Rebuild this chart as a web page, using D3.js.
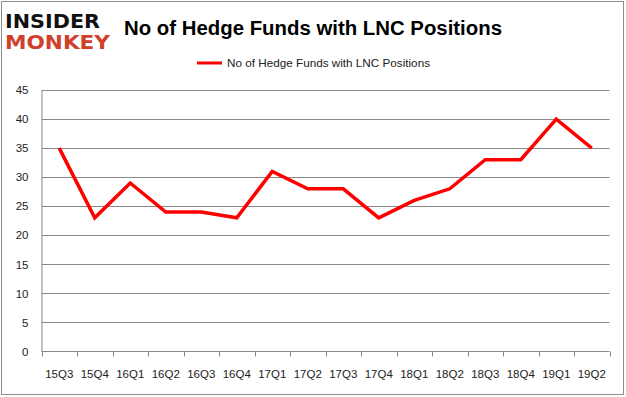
<!DOCTYPE html>
<html><head><meta charset="utf-8">
<script src="https://cdn.jsdelivr.net/npm/d3@7"></script>
<style>body{margin:0;background:#fff}svg{display:block}</style>
</head><body>
<svg id="c" width="626" height="397"></svg>
<script>
const categories = ["15Q3","15Q4","16Q1","16Q2","16Q3","16Q4","17Q1","17Q2","17Q3","17Q4","18Q1","18Q2","18Q3","18Q4","19Q1","19Q2"];
const values = [35,23,29,24,24,23,31,28,28,23,26,28,33,33,40,35];
const yTicks = [0,5,10,15,20,25,30,35,40,45];
const seriesName = "No of Hedge Funds with LNC Positions";
const titleText = "No of Hedge Funds with LNC Positions";

const svg = d3.select("#c");
const font = "'Liberation Sans', Arial, sans-serif";
svg.append("rect").attr("x",1.5).attr("y",1.5).attr("width",622).attr("height",393)
  .attr("fill","#fff").attr("stroke","#8c8c8c").attr("stroke-width",1);

const L = 41.5, R = 609.5, T = 90, B = 351.5;
const x = d3.scaleBand().domain(categories).range([L, R]);
const y = d3.scaleLinear().domain([0,45]).range([B, T]);

// gridlines
svg.append("g").selectAll("line").data(yTicks.filter(d=>d>0)).join("line")
  .attr("x1",L).attr("x2",R).attr("y1",d=>Math.round(y(d))+0.5).attr("y2",d=>Math.round(y(d))+0.5)
  .attr("stroke","#888").attr("stroke-width",1);

// y axis
const ya = svg.append("g").attr("transform",`translate(${L},0)`)
  .call(d3.axisLeft(y).tickValues(yTicks).tickSize(0).tickPadding(13));
ya.select(".domain").attr("stroke","#888");
ya.selectAll("text").attr("font-family",font).attr("font-size","11.5px").attr("fill","#222");

// x axis
const xa = svg.append("g").attr("transform",`translate(0,${B})`);
xa.append("line").attr("x1",L).attr("x2",R).attr("stroke","#888");
const edges = categories.map(c=>x(c)).concat([R]);
xa.selectAll("line.t").data(edges).join("line").attr("class","t")
  .attr("x1",d=>Math.round(d)+0.5).attr("x2",d=>Math.round(d)+0.5).attr("y1",0).attr("y2",5).attr("stroke","#888");
xa.selectAll("text").data(categories).join("text")
  .attr("x",d=>x(d)+x.bandwidth()/2).attr("y",26).attr("text-anchor","middle")
  .attr("font-family",font).attr("font-size","11.5px").attr("fill","#222").text(d=>d);

// line
const line = d3.line().x((d,i)=>x(categories[i])+x.bandwidth()/2).y(d=>y(d));
svg.append("path").datum(values).attr("d",line).attr("fill","none")
  .attr("stroke","#ff0000").attr("stroke-width",3.5).attr("stroke-linejoin","miter");

// title
svg.append("text").attr("x",124).attr("y",35)
  .attr("font-family",font).attr("font-weight","bold").attr("font-size","20px")
  .attr("textLength",378).attr("lengthAdjust","spacingAndGlyphs").attr("fill","#000").text(titleText);

// legend
svg.append("line").attr("x1",197).attr("x2",222).attr("y1",63).attr("y2",63).attr("stroke","#ff0000").attr("stroke-width",3);
svg.append("text").attr("x",227).attr("y",67).attr("font-family",font).attr("font-size","11.5px")
  .attr("textLength",203).attr("lengthAdjust","spacingAndGlyphs").attr("fill","#222").text(seriesName);

// logo
svg.append("text").attr("x",5).attr("y",28).attr("font-family","'DejaVu Sans', sans-serif").attr("font-weight","bold")
  .attr("font-size","19px").attr("textLength",95).attr("lengthAdjust","spacingAndGlyphs").attr("fill","#111").text("INSIDER");
svg.append("text").attr("x",5).attr("y",49).attr("font-family","'DejaVu Sans', sans-serif").attr("font-weight","bold")
  .attr("font-size","19px").attr("textLength",105).attr("lengthAdjust","spacingAndGlyphs").attr("fill","#d0402a").text("MONKEY");
</script>
</body></html>
